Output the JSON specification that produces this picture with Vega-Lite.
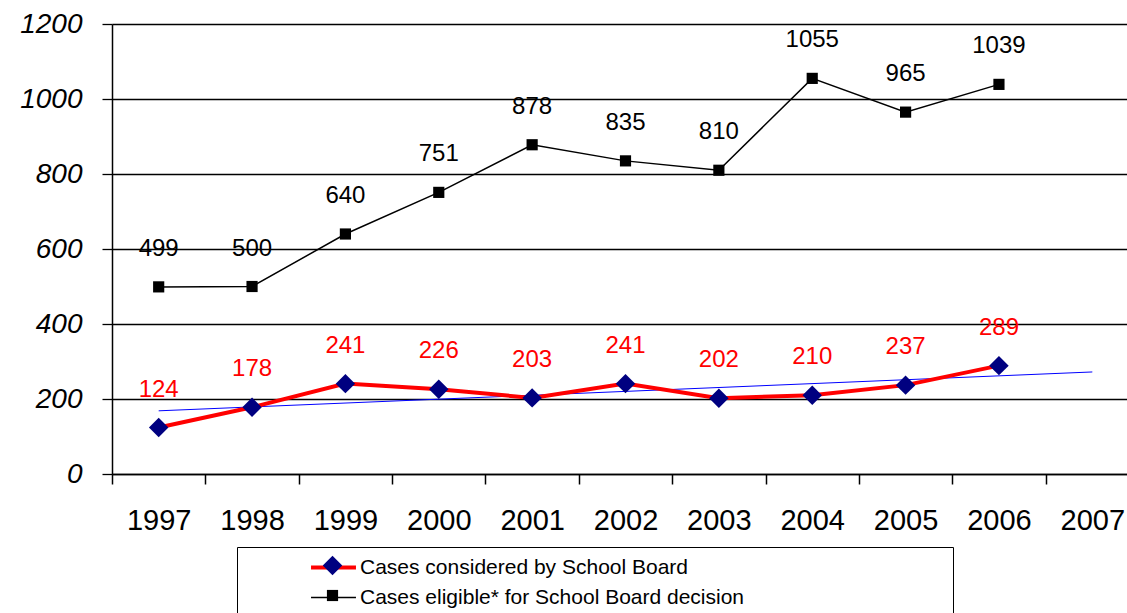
{
  "$schema": "https://vega.github.io/schema/vega-lite/v6.json",
  "width": 1015,
  "height": 450,
  "autosize": {"type": "none"},
  "padding": {"left": 112, "top": 24, "right": 0, "bottom": 139},
  "background": "white",
  "config": {"view": {"stroke": null}, "font": "Liberation Sans"},
  "datasets": {
    "cases": [
      {"year": "1997", "series": "Cases considered by School Board", "value": 124},
      {"year": "1998", "series": "Cases considered by School Board", "value": 178},
      {"year": "1999", "series": "Cases considered by School Board", "value": 241},
      {"year": "2000", "series": "Cases considered by School Board", "value": 226},
      {"year": "2001", "series": "Cases considered by School Board", "value": 203},
      {"year": "2002", "series": "Cases considered by School Board", "value": 241},
      {"year": "2003", "series": "Cases considered by School Board", "value": 202},
      {"year": "2004", "series": "Cases considered by School Board", "value": 210},
      {"year": "2005", "series": "Cases considered by School Board", "value": 237},
      {"year": "2006", "series": "Cases considered by School Board", "value": 289},
      {"year": "1997", "series": "Cases eligible* for School Board decision", "value": 499},
      {"year": "1998", "series": "Cases eligible* for School Board decision", "value": 500},
      {"year": "1999", "series": "Cases eligible* for School Board decision", "value": 640},
      {"year": "2000", "series": "Cases eligible* for School Board decision", "value": 751},
      {"year": "2001", "series": "Cases eligible* for School Board decision", "value": 878},
      {"year": "2002", "series": "Cases eligible* for School Board decision", "value": 835},
      {"year": "2003", "series": "Cases eligible* for School Board decision", "value": 810},
      {"year": "2004", "series": "Cases eligible* for School Board decision", "value": 1055},
      {"year": "2005", "series": "Cases eligible* for School Board decision", "value": 965},
      {"year": "2006", "series": "Cases eligible* for School Board decision", "value": 1039}
    ],
    "trend": [
      {"year": "1997", "trend": 168.5},
      {"year": "2007", "trend": 272.1}
    ]
  },
  "data": {"name": "cases"},
  "encoding": {
    "x": {
      "field": "year",
      "type": "ordinal",
      "scale": {
        "type": "band",
        "domain": ["1997", "1998", "1999", "2000", "2001", "2002", "2003", "2004", "2005", "2006", "2007"],
        "range": [0, 1027],
        "paddingInner": 0,
        "paddingOuter": 0
      },
      "axis": {
        "title": null,
        "tickBand": "extent",
        "tickSize": 10,
        "tickWidth": 1.5,
        "tickColor": "#000000",
        "domainColor": "#000000",
        "domainWidth": 1.5,
        "labelFont": "Liberation Sans",
        "labelFontSize": 29,
        "labelColor": "#000000",
        "labelPadding": 22,
        "labelAngle": 0,
        "grid": false,
        "labelOverlap": false,
        "labelBound": false,
        "labelFlush": false
      }
    },
    "y": {
      "field": "value",
      "type": "quantitative",
      "scale": {"domain": [0, 1200], "nice": false, "zero": true},
      "axis": {
        "title": null,
        "values": [0, 200, 400, 600, 800, 1000, 1200],
        "format": "d",
        "grid": true,
        "gridColor": "#000000",
        "gridWidth": 1.3,
        "tickSize": 10,
        "tickWidth": 1.3,
        "tickColor": "#000000",
        "domainColor": "#000000",
        "domainWidth": 1.5,
        "labelFont": "Liberation Sans",
        "labelFontStyle": "italic",
        "labelFontSize": 28,
        "labelColor": "#000000",
        "labelPadding": 20,
        "labelFlush": false,
        "labelOverlap": false,
        "labelBound": false
      }
    }
  },
  "layer": [
    {
      "data": {"name": "trend"},
      "mark": {"type": "line", "color": "#0000ff", "strokeWidth": 1},
      "encoding": {
        "y": {"field": "trend", "type": "quantitative"}
      }
    },
    {
      "mark": {"type": "line"},
      "encoding": {
        "color": {
          "field": "series",
          "type": "nominal",
          "scale": {
            "domain": ["Cases considered by School Board", "Cases eligible* for School Board decision"],
            "range": ["#ff0000", "#000000"]
          },
          "legend": {
            "title": null,
            "orient": "none",
            "legendX": 125,
            "legendY": 523,
            "direction": "vertical",
            "symbolType": "M-2.14,0H2.14M57.4,0H57.4",
            "symbolSize": 441,
            "symbolOffset": 76,
            "labelFont": "Liberation Sans",
            "labelFontSize": 21,
            "labelColor": "#000000",
            "labelLimit": 2000,
            "labelOffset": 14,
            "strokeColor": "#000000",
            "fillColor": "#ffffff",
            "padding": 8,
            "rowPadding": 8,
            "zindex": 0
          }
        },
        "strokeWidth": {
          "field": "series",
          "type": "nominal",
          "scale": {
            "domain": ["Cases considered by School Board", "Cases eligible* for School Board decision"],
            "range": [4, 1.5]
          },
          "legend": {
            "title": null,
            "orient": "none",
            "legendX": 125,
            "legendY": 523,
            "direction": "vertical",
            "symbolType": "M-2.14,0H2.14M57.4,0H57.4",
            "symbolSize": 441,
            "symbolOffset": 76,
            "labelFont": "Liberation Sans",
            "labelFontSize": 21,
            "labelColor": "#000000",
            "labelLimit": 2000,
            "labelOffset": 14,
            "strokeColor": "#000000",
            "fillColor": "#ffffff",
            "padding": 8,
            "rowPadding": 8,
            "zindex": 0
          }
        }
      }
    },
    {
      "mark": {"type": "point", "filled": true, "opacity": 1},
      "encoding": {
        "shape": {
          "field": "series",
          "type": "nominal",
          "scale": {"range": ["diamond", "square"]},
          "legend": {
            "title": null,
            "orient": "none",
            "legendX": 125,
            "legendY": 523,
            "symbolOffset": 77,
            "labelFontSize": 21,
            "labelExpr": "''",
            "clipHeight": 21,
            "padding": 8,
            "rowPadding": 8,
            "zindex": 1,
            "encode": {
              "symbols": {
                "size": {"condition": {"test": "datum.value === 'Cases considered by School Board'", "value": 180}, "value": 64}
              }
            }
          }
        },
        "fill": {
          "field": "series",
          "type": "nominal",
          "scale": {"range": ["#000080", "#000000"]},
          "legend": {
            "title": null,
            "orient": "none",
            "legendX": 125,
            "legendY": 523,
            "symbolOffset": 77,
            "labelFontSize": 21,
            "labelExpr": "''",
            "clipHeight": 21,
            "padding": 8,
            "rowPadding": 8,
            "zindex": 1
          }
        },
        "size": {
          "field": "series",
          "type": "nominal",
          "scale": {"range": [380, 125]},
          "legend": {
            "title": null,
            "orient": "none",
            "legendX": 125,
            "legendY": 523,
            "symbolOffset": 77,
            "labelFontSize": 21,
            "labelExpr": "''",
            "clipHeight": 21,
            "padding": 8,
            "rowPadding": 8,
            "zindex": 1
          }
        }
      }
    },
    {
      "mark": {"type": "text", "dy": -38, "fontSize": 24, "font": "Liberation Sans", "baseline": "middle"},
      "encoding": {
        "text": {"field": "value", "type": "quantitative"},
        "color": {
          "condition": {"test": "datum.series === 'Cases considered by School Board'", "value": "#ff0000"},
          "value": "#000000"
        }
      }
    }
  ]
}
